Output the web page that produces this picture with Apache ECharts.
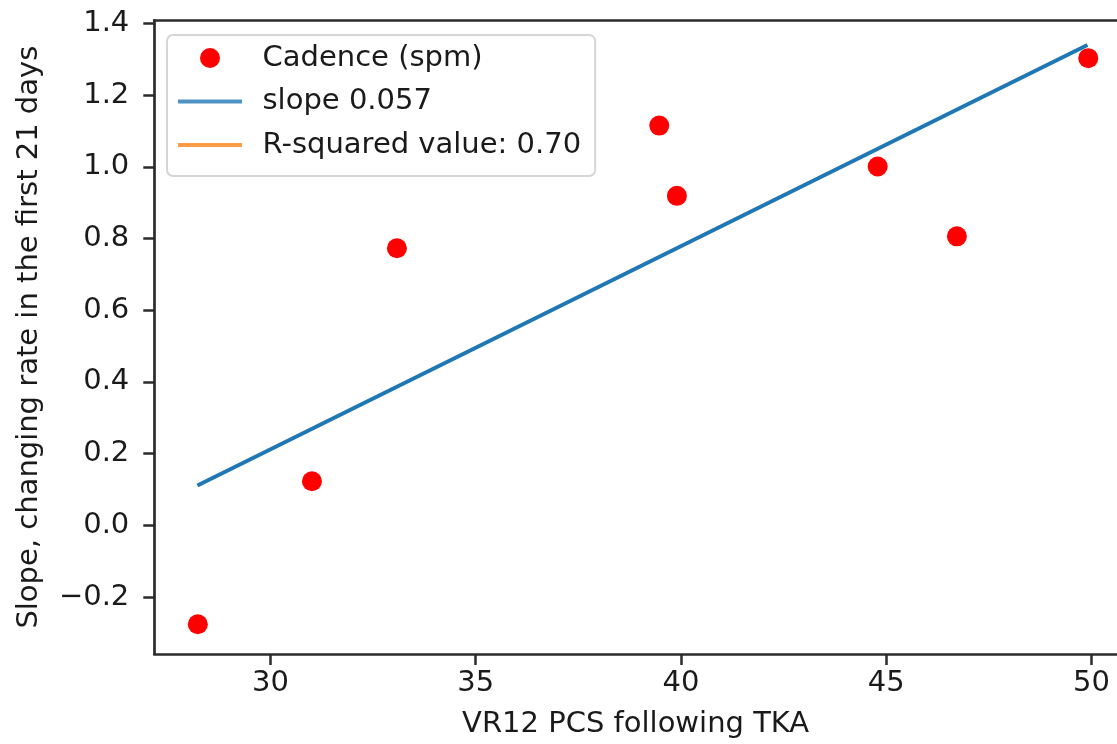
<!DOCTYPE html>
<html>
<head>
<meta charset="utf-8">
<script src="https://cdn.jsdelivr.net/npm/echarts@6/dist/echarts.min.js"></script>
<style>
  html, body { margin: 0; padding: 0; background: #ffffff; }
  #chart { width: 1117px; height: 744px; }
</style>
</head>
<body>
<div id="chart"></div>
<script>
// ---- data ----
const vr12Pcs = [28.23, 31.01, 33.08, 39.47, 39.90, 44.79, 46.72, 49.92];
const cadenceSlope = [-0.276, 0.123, 0.773, 1.115, 0.919, 1.001, 0.806, 1.303];
const fitX = [28.22, 49.90];
const fitY = [0.111, 1.340];
const xTicks = [30, 35, 40, 45, 50];
const yTicks = [-0.2, 0.0, 0.2, 0.4, 0.6, 0.8, 1.0, 1.2, 1.4];
const seriesNames = ['Cadence (spm)', 'slope 0.057', 'R-squared value: 0.70'];
const xTitle = 'VR12 PCS following TKA';
const yTitle = 'Slope, changing rate in the first 21 days';

const FONT = 'DejaVu Sans';
const FS = 29;
const TXT = '#1a1a1a';
const AX = '#2b2b2b';

function fmtY(v) {
  if (Math.abs(v) < 1e-9) return '0.0';
  return v < 0 ? '\u2212' + Math.abs(v).toFixed(1) : v.toFixed(1);
}

const chart = echarts.init(document.getElementById('chart'), null, { renderer: 'canvas' });

chart.setOption({
  animation: false,
  backgroundColor: '#ffffff',
  textStyle: { fontFamily: FONT },
  grid: { left: 154.3, top: 20.3, right: 0, bottom: 89.3, containLabel: false },
  xAxis: [
    {
      type: 'value',
      min: 27.17,
      max: 50.62,
      position: 'bottom',
      name: xTitle,
      nameLocation: 'middle',
      nameGap: 56,
      nameTextStyle: { fontFamily: FONT, fontSize: FS, color: TXT },
      axisLine: { show: true, onZero: false, lineStyle: { color: AX, width: 2.7 } },
      axisTick: { show: true, customValues: xTicks, length: 11, inside: false, lineStyle: { color: AX, width: 2.5 } },
      axisLabel: { customValues: xTicks, margin: 15, fontFamily: FONT, fontSize: FS, color: TXT,
                   formatter: v => String(Math.round(v)) },
      splitLine: { show: false }
    },
    {
      type: 'value',
      min: 27.17,
      max: 50.62,
      position: 'top',
      axisLine: { show: true, onZero: false, lineStyle: { color: AX, width: 2.7 } },
      axisTick: { show: false },
      axisLabel: { show: false },
      splitLine: { show: false }
    }
  ],
  yAxis: {
    type: 'value',
    min: -0.3589,
    max: 1.4087,
    name: yTitle,
    nameLocation: 'middle',
    nameGap: 110,
    nameRotate: 90,
    nameTextStyle: { fontFamily: FONT, fontSize: FS, color: TXT },
    axisLine: { show: true, onZero: false, lineStyle: { color: AX, width: 2.7 } },
    axisTick: { show: true, customValues: yTicks, length: 11, inside: false, lineStyle: { color: AX, width: 2.5 } },
    axisLabel: { customValues: yTicks, margin: 25, fontFamily: FONT, fontSize: FS, color: TXT, formatter: fmtY },
    splitLine: { show: false }
  },
  legend: {
    orient: 'vertical',
    left: 167,
    top: 35,
    padding: [8.5, 14, 16.5, 9],
    itemGap: 14.5,
    itemWidth: 64,
    itemHeight: 20,
    backgroundColor: '#ffffff',
    borderColor: '#d6d6d6',
    borderWidth: 2,
    borderRadius: 6,
    textStyle: { fontFamily: FONT, fontSize: FS, color: TXT, padding: [0, 0, 0, 15.5] },
    data: [
      { name: seriesNames[0], icon: 'circle' },
      { name: seriesNames[1], itemStyle: { opacity: 0 }, lineStyle: { width: 4, color: '#4f93c6' } },
      { name: seriesNames[2], itemStyle: { opacity: 0 }, lineStyle: { width: 4, color: '#ff9b45' } }
    ]
  },
  series: [
    {
      name: seriesNames[0],
      type: 'scatter',
      xAxisIndex: 0,
      symbol: 'circle',
      symbolSize: 20,
      itemStyle: { color: '#ff0000', opacity: 1 },
      data: vr12Pcs.map((x, i) => [x, cadenceSlope[i]]),
      z: 2
    },
    {
      name: seriesNames[1],
      type: 'line',
      xAxisIndex: 0,
      symbol: 'none',
      showSymbol: false,
      itemStyle: { color: '#1f77b4' },
      lineStyle: { color: '#1f77b4', width: 3.9 },
      data: fitX.map((x, i) => [x, fitY[i]]),
      z: 3
    },
    {
      name: seriesNames[2],
      type: 'line',
      xAxisIndex: 0,
      symbol: 'none',
      showSymbol: false,
      itemStyle: { color: '#ff7f0e' },
      lineStyle: { color: '#ff7f0e', width: 3.9 },
      data: [],
      z: 3
    }
  ]
});
</script>
</body>
</html>
